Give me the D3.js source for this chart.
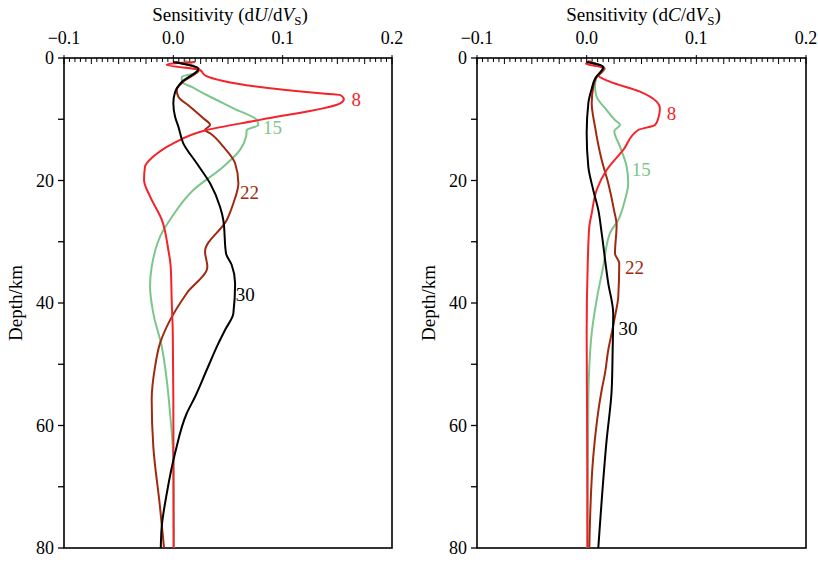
<!DOCTYPE html>
<html>
<head>
<meta charset="utf-8">
<script src="https://cdn.jsdelivr.net/npm/d3@7"></script>
<style>
  body { margin: 0; background: #fff; }
  svg text { font-family: "Liberation Serif", "Times New Roman", serif; }
</style>
</head>
<body>
<div id="chart"></div>
<script>
// sensitivity kernels, [value, depth km]
// group velocity U (left panel)
let u8 = [[0.0199,0.65],[-0.006,1.09],[0.0244,1.96],[0.029,2.82],[0.134,5.76],[0.1526,6.04],[0.156,6.74],[0.1526,7.4],
  [0.0793,10.1],[0.0306,11.76],[0.0,13.93],[-0.0183,16.1],[-0.0259,17.75],[-0.0268,19.9],[-0.0213,22.6],[-0.0106,26.4],
  [-0.0046,31.3],[-0.0024,34.1],[-0.0015,39.5],[-0.0005,44.9],[0.0,55.8],[0.0002,80]];
let u15 = [[0.0107,0.4],[0.0229,2.29],[0.0077,3.1],[0.008,3.9],[0.0168,4.73],[0.0306,6.04],[0.0549,8.21],[0.0763,10.12],
  [0.0778,10.94],[0.0672,11.76],[0.0665,12.85],[0.061,15.0],[0.0457,17.75],[0.0183,21.55],[-0.003,26.4],[-0.0091,28.1],
  [-0.0198,34.1],[-0.0213,37.3],[-0.0183,41.7],[-0.0106,47.1],[-0.006,52.6],[-0.003,58.0],[0.0,65.6],[0.0006,80]];
let u22 = [[0.0025,0.65],[0.0235,1.88],[0.0091,3.87],[0.0031,5.22],[0.0046,6.32],[0.0153,7.95],[0.0274,9.84],[0.0336,10.94],
  [0.029,11.76],[0.0336,12.29],[0.0457,14.48],[0.0565,17.19],[0.0595,20.46],[0.0549,23.72],[0.0489,26.45],[0.029,31.6],
  [0.0311,34.07],[0.0123,38.4],[-0.003,42.8],[-0.0122,46.6],[-0.0167,50.4],[-0.0198,55.8],[-0.0183,63.5],[-0.0122,73.3],[-0.0085,80]];
let u30 = [[0.0,0.65],[0.0229,1.75],[0.0077,3.92],[0.0016,5.55],[0.0,7.4],[0.0016,9.58],[0.0046,11.2],[0.0091,13.93],
  [0.0214,17.19],[0.0336,20.46],[0.0427,24.28],[0.0457,26.45],[0.0482,31.9],[0.0534,33.8],[0.0565,36.8],[0.0549,41.7],
  [0.0473,44.4],[0.0412,46.6],[0.0306,50.9],[0.0199,55.3],[0.0123,58.0],[0.0016,64.5],[-0.006,71.1],[-0.0106,76.5],[-0.0115,80]];

// phase velocity C (right panel)
let c8 = [[0.0046,0.54],[-0.0006,0.93],[0.0151,1.63],[0.0106,2.82],[0.0212,3.87],[0.0486,5.5],[0.0638,7.13],[0.0668,8.21],
  [0.0653,9.84],[0.0623,10.94],[0.047,11.76],[0.0334,15.0],[0.0182,18.29],[0.0091,21.55],[0.0046,25.36],[0.0024,27.54],
  [0.0009,34.07],[0.0,44.9],[0.0003,55.8],[0.0007,80]];
let c15 = [[0.0012,0.49],[0.0167,1.75],[0.0091,3.1],[0.0076,4.69],[0.0091,6.32],[0.0182,8.49],[0.0258,10.12],[0.0304,10.94],
  [0.0252,11.92],[0.0304,14.48],[0.0365,17.75],[0.0379,20.46],[0.0349,23.18],[0.0288,26.45],[0.0212,28.62],[0.0151,34.07],
  [0.0091,39.5],[0.0046,44.9],[0.0024,50.4],[0.0015,55.8],[0.0007,80]];
let c22 = [[0.0007,0.57],[0.0158,1.68],[0.0085,3.27],[0.006,4.69],[0.0046,7.4],[0.0076,11.2],[0.0137,16.65],[0.0197,20.46],
  [0.0249,24.8],[0.0273,27.3],[0.0258,31.9],[0.0297,33.5],[0.0288,38.97],[0.0258,42.2],[0.0228,44.95],[0.0197,47.67],
  [0.0167,51.5],[0.0137,54.2],[0.006,65.1],[0.0024,80]];
let c30 = [[0.0,0.65],[0.0151,1.47],[0.0076,3.38],[0.0046,5.01],[0.0015,7.4],[0.0,12.3],[0.0015,17.75],[0.006,21.55],
  [0.0106,24.8],[0.0137,28.62],[0.0197,36.8],[0.0242,41.7],[0.0237,47.67],[0.0228,54.2],[0.0182,62.4],[0.0106,80]];

let periods = ["8", "15", "22", "30"];
let colors = ["#f5222a", "#7cc68c", "#a0290f", "#000000"];
// label anchor per curve [value, depth]
let uLabels = [[0.163,6.9], [0.082,11.4], [0.061,22.1], [0.057,38.7]];
let cLabels = [[0.073,9.2], [0.041,18.3], [0.035,34.3], [0.029,44.3]];

let xTicks = [-0.1, 0.0, 0.1, 0.2];
let yTicks = [0, 20, 40, 60, 80];

let width = 818, height = 562;
let plotTop = 58, plotBottom = 548;

let svg = d3.select("#chart").append("svg")
    .attr("width", width)
    .attr("height", height);

let panels = [
    {left: 64, right: 392, title: "U", curves: [u15, u22, u8, u30], labels: uLabels},
    {left: 477, right: 806, title: "C", curves: [c15, c22, c8, c30], labels: cLabels}
];
// drawing order -> colour index
let order = [1, 2, 0, 3];

panels.forEach(function(p){
    let x = d3.scaleLinear().domain([-0.1, 0.2]).range([p.left, p.right]);
    let y = d3.scaleLinear().domain([0, 80]).range([plotTop, plotBottom]);
    let g = svg.append("g");

    // title
    let t = g.append("text")
        .attr("x", (p.left + p.right) / 2 + 2)
        .attr("y", 21)
        .attr("text-anchor", "middle")
        .style("font-size", "19px");
    t.append("tspan").text("Sensitivity (d");
    t.append("tspan").style("font-style", "italic").text(p.title);
    t.append("tspan").text("/d");
    t.append("tspan").style("font-style", "italic").text("V");
    t.append("tspan").attr("dy", 4).style("font-size", "13px").text("S");
    t.append("tspan").attr("dy", -4).text(")");

    // minor ticks along top
    let minor = d3.range(0, 61).map(function(i){ return -0.1 + i * 0.005; });
    g.selectAll(".mtick").data(minor).enter().append("line")
        .attr("x1", function(d){ return x(d); })
        .attr("x2", function(d){ return x(d); })
        .attr("y1", function(d, i){ return i % 20 == 0 ? plotTop - 3 : plotTop; })
        .attr("y2", function(d, i){ return i % 20 == 0 ? plotTop + 6 : (i % 5 == 0 ? plotTop + 6 : plotTop + 4); })
        .style("stroke", "#000")
        .style("stroke-width", 1);

    g.selectAll(".xlab").data(xTicks).enter().append("text")
        .attr("x", function(d){ return x(d); })
        .attr("y", 44)
        .attr("text-anchor", "middle")
        .style("font-size", "18px")
        .text(function(d){ return d3.format(".1f")(d); });

    // y ticks (major + minor), outward
    let yAll = d3.range(0, 81, 10);
    g.selectAll(".ytick").data(yAll).enter().append("line")
        .attr("x1", p.left - 6)
        .attr("x2", p.left)
        .attr("y1", function(d){ return y(d); })
        .attr("y2", function(d){ return y(d); })
        .style("stroke", "#000")
        .style("stroke-width", 1.3);

    g.selectAll(".ylab").data(yTicks).enter().append("text")
        .attr("x", p.left - 10)
        .attr("y", function(d){ return y(d) + 6; })
        .attr("text-anchor", "end")
        .style("font-size", "18px")
        .text(function(d){ return d; });

    g.append("text")
        .attr("transform", "translate(" + (p.left - 42) + "," + ((plotTop + plotBottom) / 2) + ") rotate(-90)")
        .attr("text-anchor", "middle")
        .style("font-size", "19px")
        .text("Depth/km");

    // frame
    g.append("rect")
        .attr("x", p.left)
        .attr("y", plotTop)
        .attr("width", p.right - p.left)
        .attr("height", plotBottom - plotTop)
        .style("fill", "none")
        .style("stroke", "#000")
        .style("stroke-width", 1.6);

    let line = d3.line()
        .curve(d3.curveMonotoneY)
        .x(function(d){ return x(d[0]); })
        .y(function(d){ return y(d[1]); });

    p.curves.forEach(function(c, i){
        g.append("path")
            .attr("d", line(c))
            .style("fill", "none")
            .style("stroke", colors[order[i]])
            .style("stroke-width", 2)
            .style("stroke-linejoin", "miter");
    });

    g.selectAll(".clab").data(p.labels).enter().append("text")
        .attr("x", function(d){ return x(d[0]); })
        .attr("y", function(d){ return y(d[1]) + 6; })
        .style("font-size", "19px")
        .style("fill", function(d, i){ return colors[i]; })
        .text(function(d, i){ return periods[i]; });
});
</script>
</body>
</html>
